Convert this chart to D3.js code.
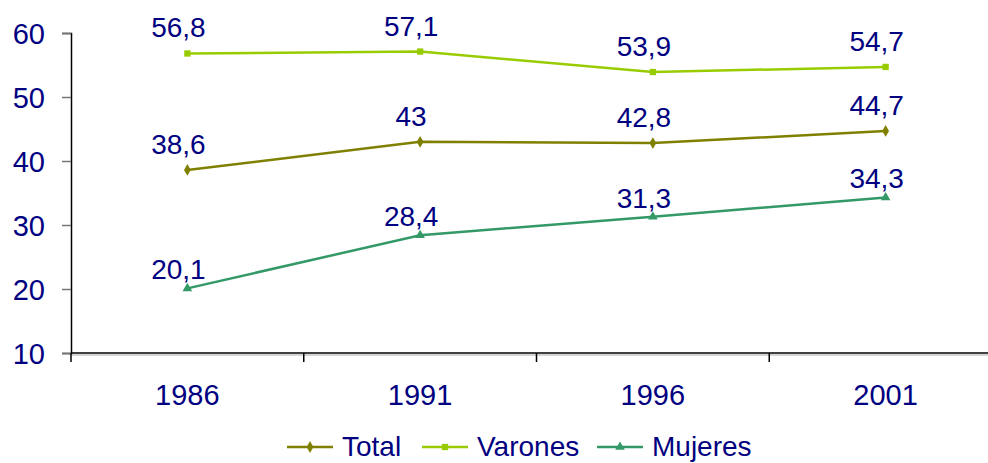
<!DOCTYPE html>
<html>
<head>
<meta charset="utf-8">
<script src="https://cdn.jsdelivr.net/npm/d3@7"></script>
<style>
  body { margin: 0; background: #fff; }
  text { font-family: "Comic Sans MS", "Liberation Sans", sans-serif; fill: #000080; }
</style>
</head>
<body>
<div id="chart"></div>
<script>
// data
var years = ["1986", "1991", "1996", "2001"];
var total = [38.6, 43, 42.8, 44.7];
var varones = [56.8, 57.1, 53.9, 54.7];
var mujeres = [20.1, 28.4, 31.3, 34.3];
var yTicks = [10, 20, 30, 40, 50, 60];

var svgWidth = 988;
var svgHeight = 463;

var svg = d3.select("#chart")
  .append("svg")
  .attr("width", svgWidth)
  .attr("height", svgHeight);

// plot area (right side runs off the picture like the original)
var x = d3.scaleBand()
  .domain(years)
  .range([71, 1002]);

var y = d3.scaleLinear()
  .domain([10, 60])
  .range([353, 33]);

var series = [
  { name: "Total", values: total, color: "#808000", marker: d3.symbolDiamond, size: 40, dy: 16 },
  { name: "Varones", values: varones, color: "#99CC00", marker: d3.symbolSquare, size: 40, dy: 16 },
  { name: "Mujeres", values: mujeres, color: "#339966", marker: d3.symbolTriangle, size: 40, dy: 9 }
];

// y axis
var yAxis = svg.append("g")
  .attr("transform", "translate(71,0)")
  .call(d3.axisLeft(y).tickValues(yTicks).tickSize(9).tickPadding(17));
yAxis.select(".domain").attr("stroke", "#000").attr("stroke-width", 1.5);
yAxis.selectAll(".tick line").attr("stroke", "#777").attr("stroke-width", 1.5);
yAxis.selectAll(".tick text")
  .attr("font-size", 29)
  .attr("dy", "0.36em")
  .style("font-family", null);

// x axis, ticks between categories
var xAxisG = svg.append("g").attr("transform", "translate(0,353)");
xAxisG.append("line")
  .attr("x1", 71).attr("x2", svgWidth)
  .attr("stroke", "#000").attr("stroke-width", 1.5);
xAxisG.append("line")
  .attr("x1", 71).attr("x2", svgWidth)
  .attr("y1", 2).attr("y2", 2)
  .attr("stroke", "#aaa").attr("stroke-width", 1);
xAxisG.selectAll(".xtick")
  .data(years)
  .enter().append("line")
  .attr("x1", d => x(d)).attr("x2", d => x(d))
  .attr("y1", 0).attr("y2", 9)
  .attr("stroke", "#000").attr("stroke-width", 1.5);
xAxisG.selectAll(".xlabel")
  .data(years)
  .enter().append("text")
  .attr("x", d => x(d) + x.bandwidth() / 2)
  .attr("y", 52)
  .attr("text-anchor", "middle")
  .attr("font-size", 29)
  .text(d => d);

// lines, markers, labels
var line = d3.line()
  .x((d, i) => x(years[i]) + x.bandwidth() / 2)
  .y(d => y(d));

series.forEach(function(s) {
  svg.append("path")
    .attr("d", line(s.values))
    .attr("fill", "none")
    .attr("stroke", s.color)
    .attr("stroke-width", 2.5);

  svg.selectAll(null)
    .data(s.values)
    .enter().append("path")
    .attr("d", d3.symbol().type(s.marker).size(s.size))
    .attr("transform", (d, i) => `translate(${x(years[i]) + x.bandwidth() / 2},${y(d)})`)
    .attr("fill", s.color);

  svg.selectAll(null)
    .data(s.values)
    .enter().append("text")
    .attr("x", (d, i) => x(years[i]) + x.bandwidth() / 2 - 9)
    .attr("y", d => y(d) - s.dy)
    .attr("text-anchor", "middle")
    .attr("font-size", 28)
    .text(d => String(d).replace(".", ","));
});

// legend
var legendX = [287, 422, 597];
var legend = svg.selectAll(".legend")
  .data(series)
  .enter().append("g")
  .attr("transform", (d, i) => `translate(${legendX[i]},447)`);
legend.append("line")
  .attr("x1", 0).attr("x2", 46)
  .attr("stroke", d => d.color)
  .attr("stroke-width", 2.5);
legend.append("path")
  .attr("d", d => d3.symbol().type(d.marker).size(d.size)())
  .attr("transform", "translate(23,0)")
  .attr("fill", d => d.color);
legend.append("text")
  .attr("x", 55)
  .attr("y", 9)
  .attr("font-size", 28)
  .text(d => d.name);
</script>
</body>
</html>
